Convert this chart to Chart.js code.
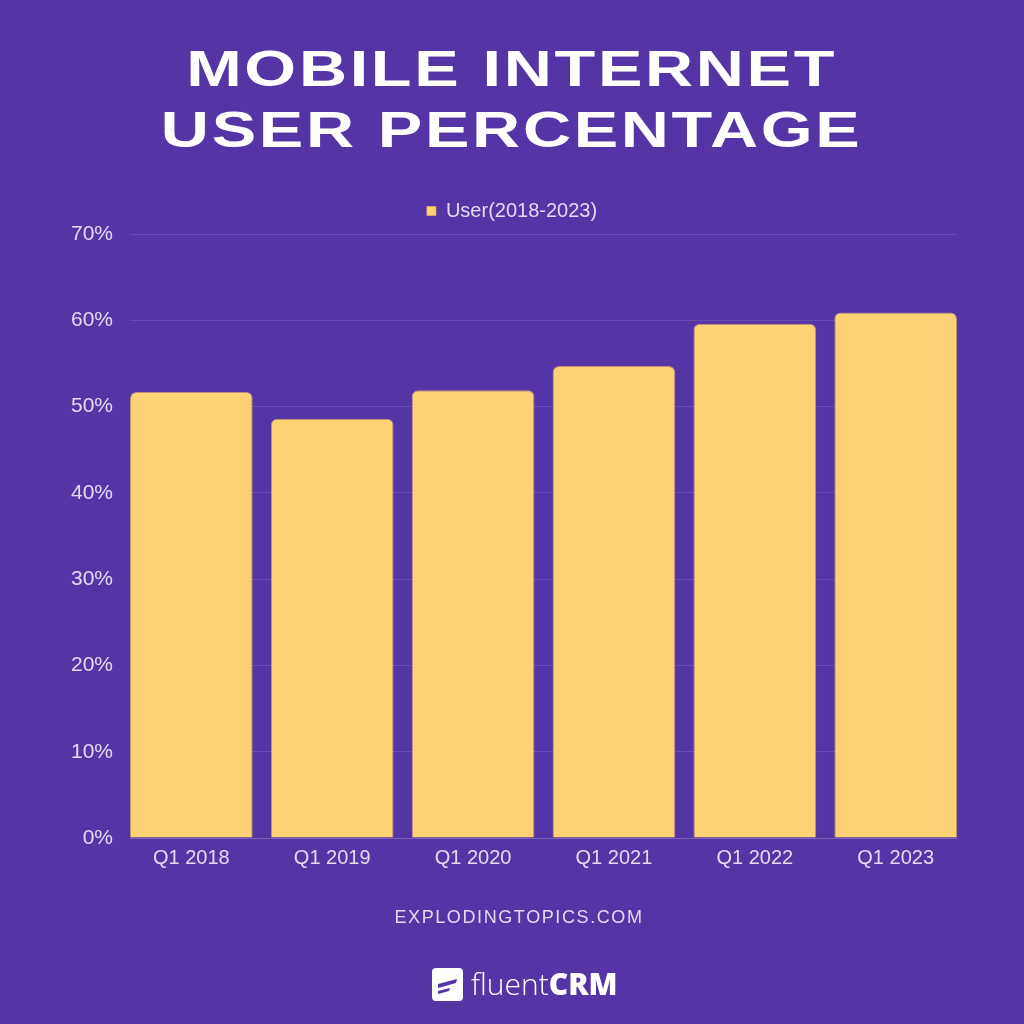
<!DOCTYPE html>
<html>
<head>
<meta charset="utf-8">
<script src="https://cdn.jsdelivr.net/npm/chart.js@4/dist/chart.umd.min.js"></script>
<style>
  html, body { margin:0; padding:0; width:1024px; height:1024px; background:#5534A6; overflow:hidden; }
  #wrap { position:absolute; left:0; top:0; width:1024px; height:1024px; }
  canvas { position:absolute; left:0; top:0; }
  .title { position:absolute; left:0; width:1024px; text-align:center; color:#ffffff;
    font-family:"Liberation Sans", Arial, sans-serif; font-weight:700; font-size:50px; line-height:61px;
    letter-spacing:2px; transform:scaleX(1.333); transform-origin:513px 0; white-space:nowrap; }
  .footer { position:absolute; left:7px; width:1024px; text-align:center; color:#E2DAF2;
    font-family:"Liberation Sans", Arial, sans-serif; font-size:18px; line-height:20px; letter-spacing:1.6px; }
  #logo { position:absolute; left:432px; top:966px; height:36px; display:flex; align-items:center; }
  #logo .txt { margin-left:8px; color:#fff; font-size:30px; line-height:36px; font-family:"Open Sans", Lato, sans-serif; }
  #logo .l { font-weight:300; }
  #logo .b { font-weight:800; }
</style>
</head>
<body>
<div id="wrap">
  <canvas id="c" width="1024" height="1024"></canvas>
  <div class="title" style="top:39px">MOBILE INTERNET</div>
  <div class="title" style="top:100px">USER PERCENTAGE</div>
  <div class="footer" style="top:907px">EXPLODINGTOPICS.COM</div>
  <div id="logo">
    <svg width="31" height="33" viewBox="0 0 31 33">
      <rect x="0" y="0" width="31" height="33" rx="4" fill="#ffffff"/>
      <path d="M6 16 L25 11 L24 15 L6 20 Z" fill="#5534A6"/>
      <path d="M6 23 L18 20 L17 23 L6 26 Z" fill="#5534A6"/>
    </svg>
    <span class="txt"><span class="l">fluent</span><span class="b">CRM</span></span>
  </div>
</div>
<script>
const categories = ["Q1 2018", "Q1 2019", "Q1 2020", "Q1 2021", "Q1 2022", "Q1 2023"];
const seriesLabel = "User(2018-2023)";
const userPercent = [51.7, 48.6, 51.9, 54.7, 59.6, 60.9];
const yMin = 0, yMax = 70, yStep = 10;

const textColor = "#E2DAF2";
const gridColor = "rgba(255,255,255,0.12)";
const barColor = "#FCD274";
const barFrac = 0.871;

// bars are flush with the plot edges: extend the index range by half a bar
const points = categories.map((c, i) => ({ x: i, y: userPercent[i] }));

const chart = new Chart(document.getElementById("c"), {
  type: "bar",
  data: {
    datasets: [{
      label: seriesLabel,
      data: points,
      backgroundColor: barColor,
      borderColor: "rgba(235,185,105,0.7)",
      borderWidth: 1,
      borderRadius: 6,
      barPercentage: barFrac,
      categoryPercentage: 1.0
    }]
  },
  options: {
    responsive: false,
    animation: false,
    devicePixelRatio: 1,
    layout: { padding: { top: 186, left: 67, right: 67, bottom: 146 } },
    plugins: {
      legend: {
        display: true,
        position: "top",
        labels: {
          color: textColor,
          boxWidth: 9, boxHeight: 9,
          padding: 15,
          font: { family: "'Liberation Sans', Arial, sans-serif", size: 20 }
        }
      },
      tooltip: { enabled: false }
    },
    scales: {
      x: {
        type: "linear",
        offset: false,
        min: -barFrac / 2,
        max: categories.length - 1 + barFrac / 2,
        afterBuildTicks: (s) => { s.ticks = categories.map((c, i) => ({ value: i })); },
        grid: { display: false, drawTicks: false },
        border: { display: true, color: gridColor },
        ticks: {
          color: textColor, padding: 8,
          autoSkip: false, maxRotation: 0,
          font: { family: "'Liberation Sans', Arial, sans-serif", size: 20 },
          callback: (v) => categories[v]
        }
      },
      y: {
        min: yMin, max: yMax,
        afterFit: (s) => { s.width = 63; },
        grid: { color: gridColor, drawTicks: false },
        border: { display: false },
        ticks: {
          stepSize: yStep,
          color: textColor,
          padding: 17,
          font: { family: "'Liberation Sans', Arial, sans-serif", size: 21 },
          callback: (v) => v + "%"
        }
      }
    }
  }
});
// a little extra room between the legend and the plot
const legendFit = chart.legend.fit;
chart.legend.fit = function () { legendFit.call(this); this.height += 3; };
chart.update();
</script>
</body>
</html>
